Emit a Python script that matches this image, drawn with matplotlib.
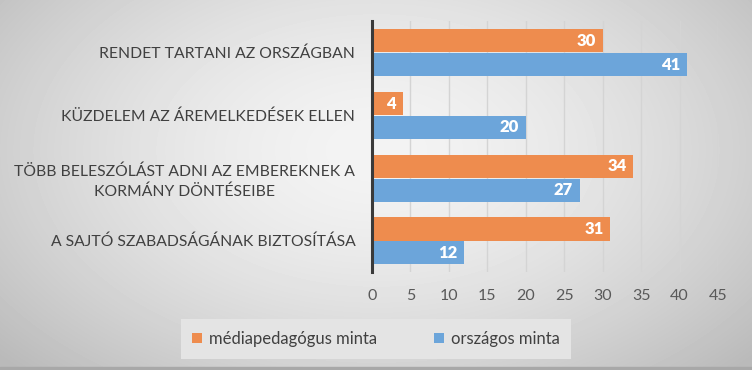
import numpy as np
import matplotlib
matplotlib.use('Agg')
import matplotlib.pyplot as plt

categories = ['RENDET TARTANI AZ ORSZÁGBAN',
              'KÜZDELEM AZ ÁREMELKEDÉSEK ELLEN',
              'TÖBB BELESZÓLÁST ADNI AZ EMBEREKNEK A\nKORMÁNY DÖNTÉSEIBE',
              'A SAJTÓ SZABADSÁGÁNAK BIZTOSÍTÁSA']
media = [30, 4, 34, 31]
orszagos = [41, 20, 27, 12]
series_names = ['médiapedagógus minta', 'országos minta']
xticks = [0, 5, 10, 15, 20, 25, 30, 35, 40, 45]

orange = '#EE8C4E'
blue = '#6CA5DA'

plt.rcParams['font.family'] = ['Lato', 'DejaVu Sans']

fig = plt.figure(figsize=(7.52, 3.70), dpi=100)

# radial gray gradient background
bg = fig.add_axes([0, 0, 1, 1], zorder=-10)
yy, xx = np.mgrid[0:370, 0:752]
r = np.sqrt(((xx - 376) / 420.0) ** 2 + ((yy - 150) / 260.0) ** 2)
shade = 0.955 - 0.17 * np.clip(r, 0, 1.2) ** 1.6
bg.imshow(shade, cmap='gray', vmin=0, vmax=1, aspect='auto', extent=[0, 1, 0, 1])
bg.axhspan(0, 0.008, color='#a8a8a8')
bg.set_xlim(0, 1)
bg.set_ylim(0, 1)
bg.axis('off')

ax = fig.add_axes([372 / 752, 1 - 272 / 370, 346 / 752, 251 / 370])
ax.set_facecolor('none')

y = np.arange(len(categories))
h = 0.37
b1 = ax.barh(y - h / 2, media, height=h, color=orange, zorder=3)
b2 = ax.barh(y + h / 2 + 0.01, orszagos, height=h, color=blue, zorder=3)

for bars in (b1, b2):
    for rect in bars:
        w = rect.get_width()
        ax.text(w - 0.9, rect.get_y() + rect.get_height() / 2, str(int(w)),
                ha='right', va='center', color='white', fontsize=12,
                fontweight='heavy', zorder=4)

ax.set_ylim(len(categories) - 0.5, -0.5)
ax.set_xlim(0, 45)
ax.set_xticks(xticks)
ax.set_yticks(y)
ax.set_yticklabels(categories, fontsize=11.3, color='#404040', ha='right',
                   multialignment='center', linespacing=1.45)
ax.tick_params(axis='y', length=0, pad=12)
ax.tick_params(axis='x', length=0, pad=12, labelsize=11.5, labelcolor='#595959')

ax.grid(axis='x', color='#d4d4d4', linewidth=1, zorder=0)
for s in ['top', 'right', 'bottom']:
    ax.spines[s].set_visible(False)
ax.spines['left'].set_color('#3a3a3a')
ax.spines['left'].set_linewidth(2.2)
ax.spines['left'].set_zorder(5)

leg = fig.legend([b1, b2], series_names, loc='center',
                 bbox_to_anchor=(376 / 752, 1 - 339 / 370), ncol=2,
                 frameon=True, fancybox=False,
                 handlelength=0.6, handleheight=0.6, handletextpad=0.4,
                 columnspacing=3.4, borderpad=0.7, borderaxespad=0,
                 prop={'size': 12})
leg.get_frame().set_facecolor('#e4e4e4')
leg.get_frame().set_edgecolor('none')
leg.get_frame().set_alpha(1)
for t in leg.get_texts():
    t.set_color('#404040')

fig.savefig('out.png', dpi=100)
